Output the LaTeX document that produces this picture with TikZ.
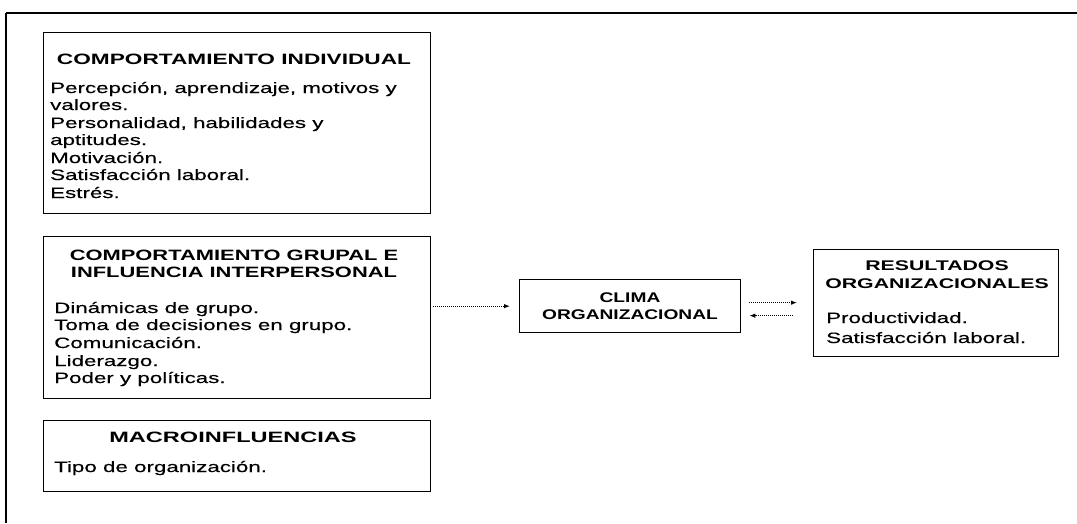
\documentclass[tikz,border=0pt]{standalone}
\usepackage{fontspec}
\setmainfont{Liberation Sans}
\newfontfamily\bodyfont{Liberation Sans}[FakeStretch=1.49, FakeBold=0.3]
\newfontfamily\headfont{Liberation Sans}[FakeStretch=1.46]
\newfontfamily\headwidefont{Liberation Sans}[FakeStretch=1.57]
\newfontfamily\indfont{Liberation Sans}[FakeStretch=1.51]
\newfontfamily\resfont{Liberation Sans}[FakeStretch=1.52]
\newfontfamily\climafont{Liberation Sans}[FakeStretch=1.37]
\usetikzlibrary{arrows.meta}

\tikzset{
  box/.style={draw=black, line width=1.3pt, fill=white, inner sep=0pt, anchor=north west},
  head/.style={font=\headfont\bfseries\fontsize{15}{17.6}\selectfont, inner sep=0pt, anchor=base},
  widehead/.style={font=\headwidefont\bfseries\fontsize{15}{17.6}\selectfont, inner sep=0pt, anchor=base},
  indhead/.style={font=\indfont\bfseries\fontsize{15}{17.6}\selectfont, inner sep=0pt, anchor=base},
  reshead/.style={font=\resfont\bfseries\fontsize{14}{17}\selectfont, inner sep=0pt, anchor=base},
  climahead/.style={font=\climafont\bfseries\fontsize{14}{17}\selectfont, inner sep=0pt, anchor=base},
  body/.style={font=\bodyfont\fontsize{15}{17.6}\selectfont, inner sep=0pt, anchor=base west},
  flow/.style={densely dotted, line width=1pt, -{Latex[length=6pt,width=4.5pt]}},
}

\begin{document}
\begin{tikzpicture}[x=1pt, y=-1pt]
  \useasboundingbox (0,0) rectangle (1077,523);

  % outer frame
  \draw[line width=1.6pt] (6,523) -- (6,13);
  \draw[line width=1.2pt] (6,13) -- (1077,13);

  % boxes
  \node[box, minimum width=387pt, minimum height=181pt] (ind) at (43,32) {};
  \node[box, minimum width=387pt, minimum height=162pt] (grp) at (43,236) {};
  \node[box, minimum width=387pt, minimum height=71pt]  (mac) at (43,420) {};
  \node[box, minimum width=221pt, minimum height=53pt]  (clima) at (519,279) {};
  \node[box, minimum width=245pt, minimum height=107pt] (res) at (813,249) {};

  % individual behaviour
  \node[indhead] (indh) at (234,64) {COMPORTAMIENTO INDIVIDUAL};
  \node[body] (ind1) at (50,93)  {Percepción, aprendizaje, motivos y};
  \node[body] (ind2) at (50,110) {valores.};
  \node[body] (ind3) at (50,128) {Personalidad, habilidades y};
  \node[body] (ind4) at (50,145) {aptitudes.};
  \node[body] (ind5) at (50,163) {Motivación.};
  \node[body] (ind6) at (50,180) {Satisfacción laboral.};
  \node[body] (ind7) at (50,198) {Estrés.};

  % group behaviour
  \node[head] (grph1) at (234,260) {COMPORTAMIENTO GRUPAL E};
  \node[head] (grph2) at (234,277) {INFLUENCIA INTERPERSONAL};
  \node[body] (grp1) at (54,313) {Dinámicas de grupo.};
  \node[body] (grp2) at (54,330) {Toma de decisiones en grupo.};
  \node[body] (grp3) at (54,348) {Comunicación.};
  \node[body] (grp4) at (54,366) {Liderazgo.};
  \node[body] (grp5) at (54,383) {Poder y políticas.};

  % macro influences
  \node[widehead] (mach) at (233,442) {MACROINFLUENCIAS};
  \node[body] (mac1) at (54,472) {Tipo de organización.};

  % organizational climate
  \node[climahead] (cl1) at (630,302) {CLIMA};
  \node[climahead] (cl2) at (630,319) {ORGANIZACIONAL};

  % organizational results
  \node[reshead] (resh1) at (937,270) {RESULTADOS};
  \node[reshead] (resh2) at (937,288) {ORGANIZACIONALES};
  \node[body] (res1) at (826,323) {Productividad.};
  \node[body] (res2) at (826,343) {Satisfacción laboral.};

  % connectors
  \draw[flow, shorten <=2pt, shorten >=9pt] (grp.east |- clima.west) -- (clima.west);
  \draw[flow, shorten <=8pt, shorten >=16pt]
    ([yshift=3.5pt]clima.east) -- ([yshift=3.5pt]clima.east -| res.west);
  \draw[flow, shorten <=20pt, shorten >=8pt]
    ([yshift=-9.5pt]clima.east -| res.west) -- ([yshift=-9.5pt]clima.east);
\end{tikzpicture}
\end{document}
